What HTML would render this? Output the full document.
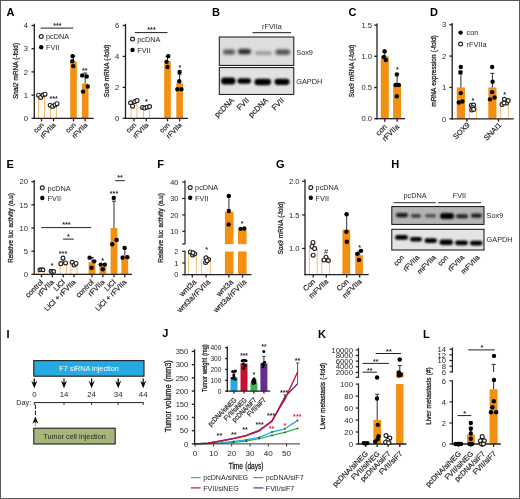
<!DOCTYPE html>
<html lang="en">
<head>
<meta charset="utf-8">
<title>Figure</title>
<style>
html,body{margin:0;padding:0;background:#fff;}
body{width:520px;height:499px;overflow:hidden;}
svg{display:block;}
svg text{font-family:"Liberation Sans",Arial,Helvetica,sans-serif;}
</style>
</head>
<body>
<svg width="520" height="499" viewBox="0 0 520 499">
<defs>
<filter id="b1" x="-30%" y="-80%" width="160%" height="260%"><feGaussianBlur stdDeviation="1.1"/></filter>
<filter id="b2" x="-30%" y="-100%" width="160%" height="300%"><feGaussianBlur stdDeviation="1.5"/></filter>
</defs>
<rect x="0" y="0" width="520" height="499" fill="#fff"/>
<text transform="translate(6.50,15.60)" font-size="11" font-weight="bold" fill="#000" >A</text>
<rect x="38.55" y="95.45" width="5.90" height="22.85" fill="#fff" stroke="#f39012" stroke-width="0.6"/>
<rect x="50.55" y="104.73" width="5.90" height="13.57" fill="#fff" stroke="#f39012" stroke-width="0.6"/>
<rect x="70.20" y="61.46" width="6.60" height="56.84" fill="#f39012"/>
<rect x="81.90" y="83.50" width="6.60" height="34.80" fill="#f39012"/>
<line x1="85.20" y1="73.06" x2="85.20" y2="83.50" stroke="#1b2330" stroke-width="0.95" />
<line x1="83.20" y1="73.06" x2="87.20" y2="73.06" stroke="#1b2330" stroke-width="0.95" />
<line x1="73.50" y1="56.12" x2="73.50" y2="61.46" stroke="#1b2330" stroke-width="0.95" />
<line x1="71.50" y1="56.12" x2="75.50" y2="56.12" stroke="#1b2330" stroke-width="0.95" />
<line x1="34.30" y1="23.80" x2="34.30" y2="118.90" stroke="#231f20" stroke-width="1.3" />
<line x1="31.50" y1="118.30" x2="34.30" y2="118.30" stroke="#231f20" stroke-width="1.3" />
<text transform="translate(28.00,121.04)" font-size="7.6" text-anchor="end" fill="#231f20" >0</text>
<line x1="31.50" y1="95.10" x2="34.30" y2="95.10" stroke="#231f20" stroke-width="1.3" />
<text transform="translate(28.00,97.84)" font-size="7.6" text-anchor="end" fill="#231f20" >1</text>
<line x1="31.50" y1="71.90" x2="34.30" y2="71.90" stroke="#231f20" stroke-width="1.3" />
<text transform="translate(28.00,74.64)" font-size="7.6" text-anchor="end" fill="#231f20" >2</text>
<line x1="31.50" y1="48.70" x2="34.30" y2="48.70" stroke="#231f20" stroke-width="1.3" />
<text transform="translate(28.00,51.44)" font-size="7.6" text-anchor="end" fill="#231f20" >3</text>
<line x1="31.50" y1="25.50" x2="34.30" y2="25.50" stroke="#231f20" stroke-width="1.3" />
<text transform="translate(28.00,28.24)" font-size="7.6" text-anchor="end" fill="#231f20" >4</text>
<line x1="33.70" y1="118.30" x2="93.70" y2="118.30" stroke="#231f20" stroke-width="1.3" />
<line x1="41.50" y1="118.30" x2="41.50" y2="121.30" stroke="#231f20" stroke-width="1.3" />
<line x1="53.50" y1="118.30" x2="53.50" y2="121.30" stroke="#231f20" stroke-width="1.3" />
<line x1="73.50" y1="118.30" x2="73.50" y2="121.30" stroke="#231f20" stroke-width="1.3" />
<line x1="85.20" y1="118.30" x2="85.20" y2="121.30" stroke="#231f20" stroke-width="1.3" />
<circle cx="38.60" cy="95.22" r="1.95" fill="#fff" stroke="#231f20" stroke-width="1.15"/>
<circle cx="40.60" cy="97.42" r="1.95" fill="#fff" stroke="#231f20" stroke-width="1.15"/>
<circle cx="43.00" cy="95.10" r="1.95" fill="#fff" stroke="#231f20" stroke-width="1.15"/>
<circle cx="45.00" cy="94.17" r="1.95" fill="#fff" stroke="#231f20" stroke-width="1.15"/>
<circle cx="50.20" cy="105.19" r="1.95" fill="#fff" stroke="#231f20" stroke-width="1.15"/>
<circle cx="52.60" cy="106.47" r="1.95" fill="#fff" stroke="#231f20" stroke-width="1.15"/>
<circle cx="55.00" cy="104.96" r="1.95" fill="#fff" stroke="#231f20" stroke-width="1.15"/>
<circle cx="57.00" cy="103.68" r="1.95" fill="#fff" stroke="#231f20" stroke-width="1.15"/>
<circle cx="72.60" cy="56.12" r="2.2" fill="#000"/>
<circle cx="72.30" cy="61.23" r="2.2" fill="#000"/>
<circle cx="73.20" cy="66.10" r="2.2" fill="#000"/>
<circle cx="82.20" cy="75.38" r="2.2" fill="#000"/>
<circle cx="86.70" cy="76.54" r="2.2" fill="#000"/>
<circle cx="87.80" cy="86.52" r="2.2" fill="#000"/>
<circle cx="83.00" cy="91.62" r="2.2" fill="#000"/>
<text transform="translate(57.40,28.34)" font-size="7.2" text-anchor="middle" font-weight="bold" fill="#231f20" >***</text>
<text transform="translate(53.60,100.94)" font-size="7.2" text-anchor="middle" font-weight="bold" fill="#231f20" >***</text>
<text transform="translate(84.80,72.74)" font-size="7.2" text-anchor="middle" font-weight="bold" fill="#231f20" >**</text>
<circle cx="41.20" cy="36.50" r="1.95" fill="#fff" stroke="#231f20" stroke-width="1.15"/>
<text transform="translate(46.00,39.10)" font-size="7.3" fill="#231f20" >pcDNA</text>
<circle cx="41.20" cy="47.20" r="2.2" fill="#000"/>
<text transform="translate(46.00,49.80)" font-size="7.3" fill="#231f20" >FVII</text>
<text transform="translate(44.20,125.50) rotate(-45)" font-size="6.9" text-anchor="end" fill="#231f20" stroke="#231f20" stroke-width="0.2">con</text>
<text transform="translate(56.20,125.50) rotate(-45)" font-size="6.9" text-anchor="end" fill="#231f20" stroke="#231f20" stroke-width="0.2">rFVIIa</text>
<text transform="translate(76.20,125.50) rotate(-45)" font-size="6.9" text-anchor="end" fill="#231f20" stroke="#231f20" stroke-width="0.2">con</text>
<text transform="translate(87.90,125.50) rotate(-45)" font-size="6.9" text-anchor="end" fill="#231f20" stroke="#231f20" stroke-width="0.2">rFVIIa</text>
<text transform="translate(17.70,71.00) rotate(-90) scale(0.82,1)" font-size="7.8" text-anchor="middle" fill="#231f20" stroke="#231f20" stroke-width="0.3" word-spacing="0.6"><tspan font-style="italic">Snai2</tspan> mRNA (-fold)</text>
<line x1="40.60" y1="28.10" x2="73.30" y2="28.10" stroke="#231f20" stroke-width="1.0" />
<rect x="131.05" y="103.96" width="5.90" height="14.34" fill="#fff" stroke="#f39012" stroke-width="0.6"/>
<rect x="143.35" y="107.51" width="5.90" height="10.79" fill="#fff" stroke="#f39012" stroke-width="0.6"/>
<rect x="164.20" y="61.07" width="6.60" height="57.23" fill="#f39012"/>
<rect x="176.30" y="82.73" width="6.60" height="35.57" fill="#f39012"/>
<line x1="179.60" y1="74.22" x2="179.60" y2="82.73" stroke="#1b2330" stroke-width="0.95" />
<line x1="177.60" y1="74.22" x2="181.60" y2="74.22" stroke="#1b2330" stroke-width="0.95" />
<line x1="167.50" y1="56.43" x2="167.50" y2="61.07" stroke="#1b2330" stroke-width="0.95" />
<line x1="165.50" y1="56.43" x2="169.50" y2="56.43" stroke="#1b2330" stroke-width="0.95" />
<line x1="125.50" y1="23.80" x2="125.50" y2="118.90" stroke="#231f20" stroke-width="1.3" />
<line x1="122.70" y1="118.30" x2="125.50" y2="118.30" stroke="#231f20" stroke-width="1.3" />
<text transform="translate(119.20,121.04)" font-size="7.6" text-anchor="end" fill="#231f20" >0</text>
<line x1="122.70" y1="87.37" x2="125.50" y2="87.37" stroke="#231f20" stroke-width="1.3" />
<text transform="translate(119.20,90.10)" font-size="7.6" text-anchor="end" fill="#231f20" >2</text>
<line x1="122.70" y1="56.43" x2="125.50" y2="56.43" stroke="#231f20" stroke-width="1.3" />
<text transform="translate(119.20,59.17)" font-size="7.6" text-anchor="end" fill="#231f20" >4</text>
<line x1="122.70" y1="25.50" x2="125.50" y2="25.50" stroke="#231f20" stroke-width="1.3" />
<text transform="translate(119.20,28.24)" font-size="7.6" text-anchor="end" fill="#231f20" >6</text>
<line x1="124.90" y1="118.30" x2="188.10" y2="118.30" stroke="#231f20" stroke-width="1.3" />
<line x1="134.00" y1="118.30" x2="134.00" y2="121.30" stroke="#231f20" stroke-width="1.3" />
<line x1="146.30" y1="118.30" x2="146.30" y2="121.30" stroke="#231f20" stroke-width="1.3" />
<line x1="167.50" y1="118.30" x2="167.50" y2="121.30" stroke="#231f20" stroke-width="1.3" />
<line x1="179.60" y1="118.30" x2="179.60" y2="121.30" stroke="#231f20" stroke-width="1.3" />
<circle cx="130.60" cy="102.83" r="1.95" fill="#fff" stroke="#231f20" stroke-width="1.15"/>
<circle cx="132.60" cy="106.24" r="1.95" fill="#fff" stroke="#231f20" stroke-width="1.15"/>
<circle cx="134.80" cy="101.60" r="1.95" fill="#fff" stroke="#231f20" stroke-width="1.15"/>
<circle cx="137.00" cy="100.51" r="1.95" fill="#fff" stroke="#231f20" stroke-width="1.15"/>
<circle cx="142.60" cy="107.47" r="1.95" fill="#fff" stroke="#231f20" stroke-width="1.15"/>
<circle cx="144.80" cy="108.09" r="1.95" fill="#fff" stroke="#231f20" stroke-width="1.15"/>
<circle cx="147.20" cy="107.16" r="1.95" fill="#fff" stroke="#231f20" stroke-width="1.15"/>
<circle cx="149.60" cy="106.55" r="1.95" fill="#fff" stroke="#231f20" stroke-width="1.15"/>
<circle cx="168.30" cy="56.12" r="2.2" fill="#000"/>
<circle cx="166.60" cy="61.85" r="2.2" fill="#000"/>
<circle cx="167.50" cy="66.95" r="2.2" fill="#000"/>
<circle cx="179.60" cy="71.90" r="2.2" fill="#000"/>
<circle cx="179.20" cy="81.18" r="2.2" fill="#000"/>
<circle cx="177.40" cy="89.22" r="2.2" fill="#000"/>
<circle cx="181.40" cy="89.22" r="2.2" fill="#000"/>
<text transform="translate(151.50,32.34)" font-size="7.2" text-anchor="middle" font-weight="bold" fill="#231f20" >***</text>
<text transform="translate(146.30,104.34)" font-size="7.2" text-anchor="middle" font-weight="bold" fill="#231f20" >*</text>
<text transform="translate(179.80,69.74)" font-size="7.2" text-anchor="middle" font-weight="bold" fill="#231f20" >*</text>
<circle cx="132.50" cy="39.00" r="1.95" fill="#fff" stroke="#231f20" stroke-width="1.15"/>
<text transform="translate(137.30,41.60)" font-size="7.3" fill="#231f20" >pcDNA</text>
<circle cx="132.50" cy="50.00" r="2.2" fill="#000"/>
<text transform="translate(137.30,52.60)" font-size="7.3" fill="#231f20" >FVII</text>
<text transform="translate(136.70,125.50) rotate(-45)" font-size="6.9" text-anchor="end" fill="#231f20" stroke="#231f20" stroke-width="0.2">con</text>
<text transform="translate(149.00,125.50) rotate(-45)" font-size="6.9" text-anchor="end" fill="#231f20" stroke="#231f20" stroke-width="0.2">rFVIIa</text>
<text transform="translate(170.20,125.50) rotate(-45)" font-size="6.9" text-anchor="end" fill="#231f20" stroke="#231f20" stroke-width="0.2">con</text>
<text transform="translate(182.30,125.50) rotate(-45)" font-size="6.9" text-anchor="end" fill="#231f20" stroke="#231f20" stroke-width="0.2">rFVIIa</text>
<text transform="translate(109.30,71.00) rotate(-90) scale(0.8,1)" font-size="7.8" text-anchor="middle" fill="#231f20" stroke="#231f20" stroke-width="0.3" word-spacing="0.6"><tspan font-style="italic">Sox9</tspan> mRNA (-fold)</text>
<line x1="134.80" y1="32.60" x2="167.50" y2="32.60" stroke="#231f20" stroke-width="1.0" />
<text transform="translate(212.00,16.00)" font-size="11" font-weight="bold" fill="#000" >B</text>
<clipPath id="cB1"><rect x="219.3" y="37" width="74.5" height="28.400000000000006"/></clipPath>
<rect x="219.3" y="37" width="74.5" height="28.400000000000006" fill="#dedede"/>
<g clip-path="url(#cB1)">
<rect x="223.0" y="49.5" width="12.0" height="5.0" rx="2.5" fill="#333" opacity="0.8" filter="url(#b2)"/>
<rect x="238.0" y="49.0" width="13.0" height="5.2" rx="2.6" fill="#1a1a1a" opacity="0.95" filter="url(#b2)"/>
<rect x="255.0" y="51.3" width="17.0" height="3.8" rx="1.9" fill="#555" opacity="0.5" filter="url(#b2)"/>
<rect x="275.5" y="49.6" width="14.5" height="5.2" rx="2.6" fill="#2a2a2a" opacity="0.8" filter="url(#b2)"/>
</g>
<rect x="219.3" y="37" width="74.5" height="28.400000000000006" fill="none" stroke="#111" stroke-width="1"/>
<clipPath id="cB2"><rect x="219.3" y="67.6" width="74.5" height="26.80000000000001"/></clipPath>
<rect x="219.3" y="67.6" width="74.5" height="26.80000000000001" fill="#e2e2e2"/>
<g clip-path="url(#cB2)">
<rect x="221.0" y="77.6" width="14.5" height="6.8" rx="3.4" fill="#000" opacity="1" filter="url(#b1)"/>
<rect x="237.5" y="78.2" width="13.5" height="5.6" rx="2.8" fill="#000" opacity="1" filter="url(#b1)"/>
<rect x="254.5" y="78.7" width="16.5" height="6.6" rx="3.3" fill="#000" opacity="1" filter="url(#b1)"/>
<rect x="274.5" y="78.7" width="15.0" height="6.2" rx="3.1" fill="#000" opacity="1" filter="url(#b1)"/>
</g>
<rect x="219.3" y="67.6" width="74.5" height="26.80000000000001" fill="none" stroke="#111" stroke-width="1"/>
<text transform="translate(272.00,29.00)" font-size="7.3" text-anchor="middle" fill="#231f20" >rFVIIa</text>
<line x1="252.50" y1="32.60" x2="291.00" y2="32.60" stroke="#444" stroke-width="1.2" />
<text transform="translate(296.30,54.70)" font-size="7.3" fill="#231f20" >Sox9</text>
<text transform="translate(296.30,84.00)" font-size="7.3" fill="#231f20" >GAPDH</text>
<text transform="translate(234.50,100.80) rotate(-45)" font-size="7.6" text-anchor="end" fill="#231f20" stroke="#231f20" stroke-width="0.2">pcDNA</text>
<text transform="translate(249.50,100.80) rotate(-45)" font-size="7.6" text-anchor="end" fill="#231f20" stroke="#231f20" stroke-width="0.2">FVII</text>
<text transform="translate(268.50,100.80) rotate(-45)" font-size="7.6" text-anchor="end" fill="#231f20" stroke="#231f20" stroke-width="0.2">pcDNA</text>
<text transform="translate(284.50,100.80) rotate(-45)" font-size="7.6" text-anchor="end" fill="#231f20" stroke="#231f20" stroke-width="0.2">FVII</text>
<text transform="translate(348.60,16.00)" font-size="11" font-weight="bold" fill="#000" >C</text>
<rect x="380.80" y="56.30" width="8.00" height="62.40" fill="#f39012"/>
<rect x="393.10" y="84.38" width="8.00" height="34.32" fill="#f39012"/>
<line x1="384.80" y1="51.93" x2="384.80" y2="56.30" stroke="#1b2330" stroke-width="0.95" />
<line x1="382.80" y1="51.93" x2="386.80" y2="51.93" stroke="#1b2330" stroke-width="0.95" />
<line x1="397.10" y1="73.77" x2="397.10" y2="84.38" stroke="#1b2330" stroke-width="0.95" />
<line x1="395.10" y1="73.77" x2="399.10" y2="73.77" stroke="#1b2330" stroke-width="0.95" />
<line x1="377.00" y1="23.40" x2="377.00" y2="119.30" stroke="#231f20" stroke-width="1.3" />
<line x1="374.20" y1="118.70" x2="377.00" y2="118.70" stroke="#231f20" stroke-width="1.3" />
<text transform="translate(372.10,121.44)" font-size="7.6" text-anchor="end" fill="#231f20" >0.0</text>
<line x1="374.20" y1="87.50" x2="377.00" y2="87.50" stroke="#231f20" stroke-width="1.3" />
<text transform="translate(372.10,90.24)" font-size="7.6" text-anchor="end" fill="#231f20" >0.5</text>
<line x1="374.20" y1="56.30" x2="377.00" y2="56.30" stroke="#231f20" stroke-width="1.3" />
<text transform="translate(372.10,59.04)" font-size="7.6" text-anchor="end" fill="#231f20" >1.0</text>
<line x1="374.20" y1="25.10" x2="377.00" y2="25.10" stroke="#231f20" stroke-width="1.3" />
<text transform="translate(372.10,27.84)" font-size="7.6" text-anchor="end" fill="#231f20" >1.5</text>
<line x1="376.40" y1="118.70" x2="405.00" y2="118.70" stroke="#231f20" stroke-width="1.3" />
<line x1="384.80" y1="118.70" x2="384.80" y2="121.70" stroke="#231f20" stroke-width="1.3" />
<line x1="397.10" y1="118.70" x2="397.10" y2="121.70" stroke="#231f20" stroke-width="1.3" />
<circle cx="384.60" cy="51.31" r="2.2" fill="#000"/>
<circle cx="383.80" cy="56.92" r="2.2" fill="#000"/>
<circle cx="385.80" cy="60.04" r="2.2" fill="#000"/>
<circle cx="396.80" cy="74.40" r="2.2" fill="#000"/>
<circle cx="395.60" cy="85.00" r="2.2" fill="#000"/>
<circle cx="398.80" cy="85.00" r="2.2" fill="#000"/>
<circle cx="396.80" cy="96.24" r="2.2" fill="#000"/>
<text transform="translate(397.30,72.24)" font-size="7.2" text-anchor="middle" font-weight="bold" fill="#231f20" >*</text>
<text transform="translate(354.00,71.00) rotate(-90) scale(0.8,1)" font-size="7.8" text-anchor="middle" fill="#231f20" stroke="#231f20" stroke-width="0.3" word-spacing="0.6"><tspan font-style="italic">Sox9</tspan> mRNA (-fold)</text>
<text transform="translate(387.40,127.40) rotate(-45)" font-size="7.5" text-anchor="end" fill="#231f20" stroke="#231f20" stroke-width="0.2">con</text>
<text transform="translate(399.70,127.40) rotate(-45)" font-size="7.5" text-anchor="end" fill="#231f20" stroke="#231f20" stroke-width="0.2">rFVIIa</text>
<text transform="translate(430.00,16.00)" font-size="11" font-weight="bold" fill="#000" >D</text>
<rect x="456.80" y="87.45" width="8.20" height="31.35" fill="#f39012"/>
<rect x="469.25" y="107.24" width="7.50" height="11.56" fill="#fff" stroke="#f39012" stroke-width="0.6"/>
<rect x="488.30" y="87.45" width="8.20" height="31.35" fill="#f39012"/>
<rect x="500.75" y="104.10" width="7.50" height="14.70" fill="#fff" stroke="#f39012" stroke-width="0.6"/>
<line x1="460.90" y1="71.77" x2="460.90" y2="87.45" stroke="#1b2330" stroke-width="0.95" />
<line x1="458.90" y1="71.77" x2="462.90" y2="71.77" stroke="#1b2330" stroke-width="0.95" />
<line x1="492.40" y1="73.34" x2="492.40" y2="87.45" stroke="#1b2330" stroke-width="0.95" />
<line x1="490.40" y1="73.34" x2="494.40" y2="73.34" stroke="#1b2330" stroke-width="0.95" />
<line x1="452.20" y1="23.00" x2="452.20" y2="119.40" stroke="#231f20" stroke-width="1.3" />
<line x1="449.40" y1="118.80" x2="452.20" y2="118.80" stroke="#231f20" stroke-width="1.3" />
<text transform="translate(446.30,121.54)" font-size="7.6" text-anchor="end" fill="#231f20" >0</text>
<line x1="449.40" y1="87.45" x2="452.20" y2="87.45" stroke="#231f20" stroke-width="1.3" />
<text transform="translate(446.30,90.19)" font-size="7.6" text-anchor="end" fill="#231f20" >1</text>
<line x1="449.40" y1="56.10" x2="452.20" y2="56.10" stroke="#231f20" stroke-width="1.3" />
<text transform="translate(446.30,58.84)" font-size="7.6" text-anchor="end" fill="#231f20" >2</text>
<line x1="449.40" y1="24.75" x2="452.20" y2="24.75" stroke="#231f20" stroke-width="1.3" />
<text transform="translate(446.30,27.49)" font-size="7.6" text-anchor="end" fill="#231f20" >3</text>
<line x1="451.60" y1="118.80" x2="513.70" y2="118.80" stroke="#231f20" stroke-width="1.3" />
<line x1="466.90" y1="118.80" x2="466.90" y2="121.80" stroke="#231f20" stroke-width="1.3" />
<line x1="498.50" y1="118.80" x2="498.50" y2="121.80" stroke="#231f20" stroke-width="1.3" />
<circle cx="460.80" cy="67.07" r="2.2" fill="#000"/>
<circle cx="460.80" cy="93.09" r="2.2" fill="#000"/>
<circle cx="458.80" cy="102.50" r="2.2" fill="#000"/>
<circle cx="462.40" cy="101.56" r="2.2" fill="#000"/>
<rect x="458.4" y="70.40" width="4.0" height="4.0" fill="#000"/>
<circle cx="492.20" cy="67.07" r="2.2" fill="#000"/>
<circle cx="492.60" cy="81.81" r="2.2" fill="#000"/>
<circle cx="492.20" cy="92.15" r="2.2" fill="#000"/>
<circle cx="490.00" cy="99.36" r="2.2" fill="#000"/>
<circle cx="494.60" cy="97.48" r="2.2" fill="#000"/>
<circle cx="471.30" cy="105.32" r="1.95" fill="#fff" stroke="#231f20" stroke-width="1.15"/>
<circle cx="473.60" cy="105.01" r="1.95" fill="#fff" stroke="#231f20" stroke-width="1.15"/>
<circle cx="472.50" cy="107.51" r="1.95" fill="#fff" stroke="#231f20" stroke-width="1.15"/>
<circle cx="471.80" cy="110.02" r="1.95" fill="#fff" stroke="#231f20" stroke-width="1.15"/>
<circle cx="473.60" cy="109.39" r="1.95" fill="#fff" stroke="#231f20" stroke-width="1.15"/>
<circle cx="502.00" cy="104.38" r="1.95" fill="#fff" stroke="#231f20" stroke-width="1.15"/>
<circle cx="504.40" cy="99.36" r="1.95" fill="#fff" stroke="#231f20" stroke-width="1.15"/>
<circle cx="506.60" cy="103.12" r="1.95" fill="#fff" stroke="#231f20" stroke-width="1.15"/>
<circle cx="508.20" cy="100.62" r="1.95" fill="#fff" stroke="#231f20" stroke-width="1.15"/>
<circle cx="504.00" cy="103.12" r="1.95" fill="#fff" stroke="#231f20" stroke-width="1.15"/>
<text transform="translate(472.80,103.34)" font-size="7.2" text-anchor="middle" font-weight="bold" fill="#231f20" >*</text>
<text transform="translate(504.60,96.74)" font-size="7.2" text-anchor="middle" font-weight="bold" fill="#231f20" >*</text>
<circle cx="460.60" cy="32.60" r="2.2" fill="#000"/>
<text transform="translate(466.60,35.30)" font-size="7.3" fill="#231f20" >con</text>
<circle cx="460.60" cy="44.00" r="1.95" fill="#fff" stroke="#231f20" stroke-width="1.15"/>
<text transform="translate(466.60,46.70)" font-size="7.3" fill="#231f20" >rFVIIa</text>
<text transform="translate(435.80,71.00) rotate(-90) scale(0.83,1)" font-size="7.8" text-anchor="middle" fill="#231f20" stroke="#231f20" stroke-width="0.3" word-spacing="0.6">mRNA expression (-fold)</text>
<text transform="translate(470.20,125.60) rotate(-45)" font-size="7.5" text-anchor="end" fill="#231f20" stroke="#231f20" stroke-width="0.2">SOX9</text>
<text transform="translate(502.00,125.60) rotate(-45)" font-size="7.5" text-anchor="end" fill="#231f20" stroke="#231f20" stroke-width="0.2">SNAI1</text>
<text transform="translate(6.50,167.50)" font-size="11" font-weight="bold" fill="#000" >E</text>
<rect x="38.45" y="270.02" width="6.10" height="4.28" fill="#fff" stroke="#f39012" stroke-width="0.6"/>
<rect x="49.25" y="271.41" width="6.10" height="2.89" fill="#fff" stroke="#f39012" stroke-width="0.6"/>
<rect x="60.15" y="262.61" width="6.10" height="11.69" fill="#fff" stroke="#f39012" stroke-width="0.6"/>
<rect x="70.95" y="264.00" width="6.10" height="10.30" fill="#fff" stroke="#f39012" stroke-width="0.6"/>
<rect x="88.60" y="262.26" width="6.80" height="12.04" fill="#f39012"/>
<rect x="99.50" y="266.43" width="6.80" height="7.87" fill="#f39012"/>
<rect x="110.60" y="228.00" width="6.80" height="46.30" fill="#f39012"/>
<rect x="121.40" y="255.32" width="6.80" height="18.98" fill="#f39012"/>
<line x1="114.00" y1="201.15" x2="114.00" y2="228.00" stroke="#1b2330" stroke-width="0.95" />
<line x1="112.00" y1="201.15" x2="116.00" y2="201.15" stroke="#1b2330" stroke-width="0.95" />
<line x1="124.80" y1="248.37" x2="124.80" y2="255.32" stroke="#1b2330" stroke-width="0.95" />
<line x1="122.80" y1="248.37" x2="126.80" y2="248.37" stroke="#1b2330" stroke-width="0.95" />
<line x1="92.00" y1="257.63" x2="92.00" y2="262.26" stroke="#1b2330" stroke-width="0.95" />
<line x1="90.00" y1="257.63" x2="94.00" y2="257.63" stroke="#1b2330" stroke-width="0.95" />
<line x1="63.20" y1="259.02" x2="63.20" y2="262.26" stroke="#1b2330" stroke-width="0.95" />
<line x1="61.20" y1="259.02" x2="65.20" y2="259.02" stroke="#1b2330" stroke-width="0.95" />
<line x1="34.20" y1="180.00" x2="34.20" y2="274.90" stroke="#231f20" stroke-width="1.3" />
<line x1="31.40" y1="274.30" x2="34.20" y2="274.30" stroke="#231f20" stroke-width="1.3" />
<text transform="translate(27.90,277.04)" font-size="7.6" text-anchor="end" fill="#231f20" >0</text>
<line x1="31.40" y1="251.15" x2="34.20" y2="251.15" stroke="#231f20" stroke-width="1.3" />
<text transform="translate(27.90,253.89)" font-size="7.6" text-anchor="end" fill="#231f20" >5</text>
<line x1="31.40" y1="228.00" x2="34.20" y2="228.00" stroke="#231f20" stroke-width="1.3" />
<text transform="translate(27.90,230.74)" font-size="7.6" text-anchor="end" fill="#231f20" >10</text>
<line x1="31.40" y1="204.85" x2="34.20" y2="204.85" stroke="#231f20" stroke-width="1.3" />
<text transform="translate(27.90,207.59)" font-size="7.6" text-anchor="end" fill="#231f20" >15</text>
<line x1="31.40" y1="181.70" x2="34.20" y2="181.70" stroke="#231f20" stroke-width="1.3" />
<text transform="translate(27.90,184.44)" font-size="7.6" text-anchor="end" fill="#231f20" >20</text>
<line x1="33.60" y1="274.30" x2="132.00" y2="274.30" stroke="#231f20" stroke-width="1.3" />
<line x1="41.50" y1="274.30" x2="41.50" y2="277.30" stroke="#231f20" stroke-width="1.3" />
<line x1="52.30" y1="274.30" x2="52.30" y2="277.30" stroke="#231f20" stroke-width="1.3" />
<line x1="63.20" y1="274.30" x2="63.20" y2="277.30" stroke="#231f20" stroke-width="1.3" />
<line x1="74.00" y1="274.30" x2="74.00" y2="277.30" stroke="#231f20" stroke-width="1.3" />
<line x1="92.00" y1="274.30" x2="92.00" y2="277.30" stroke="#231f20" stroke-width="1.3" />
<line x1="102.90" y1="274.30" x2="102.90" y2="277.30" stroke="#231f20" stroke-width="1.3" />
<line x1="114.00" y1="274.30" x2="114.00" y2="277.30" stroke="#231f20" stroke-width="1.3" />
<line x1="124.80" y1="274.30" x2="124.80" y2="277.30" stroke="#231f20" stroke-width="1.3" />
<circle cx="39.70" cy="269.90" r="1.75" fill="#fff" stroke="#231f20" stroke-width="1.15"/>
<circle cx="41.40" cy="269.67" r="1.75" fill="#fff" stroke="#231f20" stroke-width="1.15"/>
<circle cx="43.10" cy="269.90" r="1.75" fill="#fff" stroke="#231f20" stroke-width="1.15"/>
<circle cx="50.90" cy="271.06" r="1.75" fill="#fff" stroke="#231f20" stroke-width="1.15"/>
<circle cx="52.40" cy="271.99" r="1.75" fill="#fff" stroke="#231f20" stroke-width="1.15"/>
<circle cx="53.80" cy="271.43" r="1.75" fill="#fff" stroke="#231f20" stroke-width="1.15"/>
<circle cx="63.00" cy="258.10" r="1.95" fill="#fff" stroke="#231f20" stroke-width="1.15"/>
<circle cx="60.80" cy="263.65" r="1.95" fill="#fff" stroke="#231f20" stroke-width="1.15"/>
<circle cx="65.60" cy="262.96" r="1.95" fill="#fff" stroke="#231f20" stroke-width="1.15"/>
<circle cx="72.20" cy="262.26" r="1.95" fill="#fff" stroke="#231f20" stroke-width="1.15"/>
<circle cx="74.20" cy="265.04" r="1.95" fill="#fff" stroke="#231f20" stroke-width="1.15"/>
<circle cx="76.00" cy="263.42" r="1.95" fill="#fff" stroke="#231f20" stroke-width="1.15"/>
<circle cx="89.60" cy="257.63" r="2.2" fill="#000"/>
<circle cx="94.20" cy="261.34" r="2.2" fill="#000"/>
<circle cx="91.60" cy="267.82" r="2.2" fill="#000"/>
<circle cx="100.80" cy="264.58" r="2.2" fill="#000"/>
<circle cx="104.80" cy="264.58" r="2.2" fill="#000"/>
<circle cx="102.80" cy="269.21" r="2.2" fill="#000"/>
<circle cx="113.80" cy="197.91" r="2.2" fill="#000"/>
<circle cx="112.20" cy="244.21" r="2.2" fill="#000"/>
<circle cx="116.60" cy="240.04" r="2.2" fill="#000"/>
<circle cx="124.60" cy="247.91" r="2.2" fill="#000"/>
<circle cx="122.60" cy="257.63" r="2.2" fill="#000"/>
<circle cx="127.40" cy="257.17" r="2.2" fill="#000"/>
<line x1="41.40" y1="227.60" x2="91.20" y2="227.60" stroke="#231f20" stroke-width="1.0" />
<text transform="translate(66.40,227.34)" font-size="7.2" text-anchor="middle" font-weight="bold" fill="#231f20" >***</text>
<line x1="63.00" y1="239.10" x2="73.80" y2="239.10" stroke="#231f20" stroke-width="1.0" />
<text transform="translate(68.30,239.34)" font-size="7.2" text-anchor="middle" font-weight="bold" fill="#231f20" >*</text>
<line x1="115.20" y1="180.70" x2="124.80" y2="180.70" stroke="#231f20" stroke-width="1.0" />
<text transform="translate(120.00,180.34)" font-size="7.2" text-anchor="middle" font-weight="bold" fill="#231f20" >**</text>
<text transform="translate(114.00,195.94)" font-size="7.2" text-anchor="middle" font-weight="bold" fill="#231f20" >***</text>
<text transform="translate(63.00,255.94)" font-size="7.2" text-anchor="middle" font-weight="bold" fill="#231f20" >***</text>
<text transform="translate(52.20,268.14)" font-size="7.2" text-anchor="middle" font-weight="bold" fill="#231f20" >*</text>
<text transform="translate(102.70,262.74)" font-size="7.2" text-anchor="middle" font-weight="bold" fill="#231f20" >*</text>
<circle cx="42.30" cy="187.80" r="1.95" fill="#fff" stroke="#231f20" stroke-width="1.15"/>
<text transform="translate(47.60,190.50)" font-size="7.3" fill="#231f20" >pcDNA</text>
<circle cx="42.30" cy="198.00" r="2.2" fill="#000"/>
<text transform="translate(47.60,200.70)" font-size="7.3" fill="#231f20" >FVII</text>
<text transform="translate(12.80,228.00) rotate(-90) scale(0.83,1)" font-size="7.6" text-anchor="middle" fill="#231f20" stroke="#231f20" stroke-width="0.3" word-spacing="0.6">Relative luc activity (a.u)</text>
<text transform="translate(43.70,282.60) rotate(-45)" font-size="7.3" text-anchor="end" fill="#231f20" stroke="#231f20" stroke-width="0.2">control</text>
<text transform="translate(54.50,282.60) rotate(-45)" font-size="7.3" text-anchor="end" fill="#231f20" stroke="#231f20" stroke-width="0.2">rFVIIa</text>
<text transform="translate(65.40,282.60) rotate(-45)" font-size="7.3" text-anchor="end" fill="#231f20" stroke="#231f20" stroke-width="0.2">LiCl</text>
<text transform="translate(76.20,282.60) rotate(-45)" font-size="7.3" text-anchor="end" fill="#231f20" stroke="#231f20" stroke-width="0.2">LiCl + rFVIIa</text>
<text transform="translate(94.20,282.60) rotate(-45)" font-size="7.3" text-anchor="end" fill="#231f20" stroke="#231f20" stroke-width="0.2">control</text>
<text transform="translate(105.10,282.60) rotate(-45)" font-size="7.3" text-anchor="end" fill="#231f20" stroke="#231f20" stroke-width="0.2">rFVIIa</text>
<text transform="translate(116.20,282.60) rotate(-45)" font-size="7.3" text-anchor="end" fill="#231f20" stroke="#231f20" stroke-width="0.2">LiCl</text>
<text transform="translate(127.00,282.60) rotate(-45)" font-size="7.3" text-anchor="end" fill="#231f20" stroke="#231f20" stroke-width="0.2">LiCl + rFVIIa</text>
<text transform="translate(157.30,167.50)" font-size="11" font-weight="bold" fill="#000" >F</text>
<rect x="188.35" y="254.07" width="7.90" height="20.53" fill="#fff" stroke="#f39012" stroke-width="0.6"/>
<rect x="201.75" y="259.87" width="8.70" height="14.73" fill="#fff" stroke="#f39012" stroke-width="0.6"/>
<rect x="224.90" y="211.62" width="8.60" height="32.58" fill="#f39012"/>
<rect x="238.00" y="229.00" width="8.60" height="15.20" fill="#f39012"/>
<rect x="224.90" y="251.50" width="8.60" height="23.10" fill="#f39012"/>
<rect x="238.00" y="251.50" width="8.60" height="23.10" fill="#f39012"/>
<line x1="228.90" y1="196.04" x2="228.90" y2="211.62" stroke="#1b2330" stroke-width="0.95" />
<line x1="226.90" y1="196.04" x2="230.90" y2="196.04" stroke="#1b2330" stroke-width="0.95" />
<line x1="185.00" y1="180.20" x2="185.00" y2="244.20" stroke="#231f20" stroke-width="1.2" />
<line x1="185.00" y1="250.80" x2="185.00" y2="275.20" stroke="#231f20" stroke-width="1.2" />
<line x1="182.20" y1="231.30" x2="185.00" y2="231.30" stroke="#231f20" stroke-width="1.2" />
<text transform="translate(178.40,234.00)" font-size="7.4" text-anchor="end" fill="#231f20" >10</text>
<line x1="182.20" y1="214.90" x2="185.00" y2="214.90" stroke="#231f20" stroke-width="1.2" />
<text transform="translate(178.40,217.60)" font-size="7.4" text-anchor="end" fill="#231f20" >20</text>
<line x1="182.20" y1="198.50" x2="185.00" y2="198.50" stroke="#231f20" stroke-width="1.2" />
<text transform="translate(178.40,201.20)" font-size="7.4" text-anchor="end" fill="#231f20" >30</text>
<line x1="182.20" y1="182.10" x2="185.00" y2="182.10" stroke="#231f20" stroke-width="1.2" />
<text transform="translate(178.40,184.80)" font-size="7.4" text-anchor="end" fill="#231f20" >40</text>
<line x1="182.20" y1="243.90" x2="185.00" y2="243.90" stroke="#231f20" stroke-width="1.2" />
<line x1="182.20" y1="274.60" x2="185.00" y2="274.60" stroke="#231f20" stroke-width="1.2" />
<text transform="translate(178.40,277.30)" font-size="7.4" text-anchor="end" fill="#231f20" >0</text>
<line x1="182.20" y1="263.00" x2="185.00" y2="263.00" stroke="#231f20" stroke-width="1.2" />
<text transform="translate(178.40,265.70)" font-size="7.4" text-anchor="end" fill="#231f20" >1</text>
<line x1="182.20" y1="251.40" x2="185.00" y2="251.40" stroke="#231f20" stroke-width="1.2" />
<text transform="translate(178.40,254.10)" font-size="7.4" text-anchor="end" fill="#231f20" >2</text>
<line x1="184.40" y1="274.60" x2="251.60" y2="274.60" stroke="#231f20" stroke-width="1.3" />
<line x1="192.30" y1="274.60" x2="192.30" y2="277.60" stroke="#231f20" stroke-width="1.3" />
<line x1="206.10" y1="274.60" x2="206.10" y2="277.60" stroke="#231f20" stroke-width="1.3" />
<line x1="228.90" y1="274.60" x2="228.90" y2="277.60" stroke="#231f20" stroke-width="1.3" />
<line x1="242.50" y1="274.60" x2="242.50" y2="277.60" stroke="#231f20" stroke-width="1.3" />
<circle cx="190.40" cy="251.98" r="1.95" fill="#fff" stroke="#231f20" stroke-width="1.15"/>
<circle cx="192.60" cy="254.88" r="1.95" fill="#fff" stroke="#231f20" stroke-width="1.15"/>
<circle cx="194.80" cy="253.95" r="1.95" fill="#fff" stroke="#231f20" stroke-width="1.15"/>
<circle cx="193.00" cy="252.79" r="1.95" fill="#fff" stroke="#231f20" stroke-width="1.15"/>
<circle cx="206.00" cy="257.78" r="1.95" fill="#fff" stroke="#231f20" stroke-width="1.15"/>
<circle cx="208.60" cy="259.52" r="1.95" fill="#fff" stroke="#231f20" stroke-width="1.15"/>
<circle cx="205.60" cy="262.42" r="1.95" fill="#fff" stroke="#231f20" stroke-width="1.15"/>
<circle cx="207.00" cy="260.68" r="1.95" fill="#fff" stroke="#231f20" stroke-width="1.15"/>
<circle cx="228.80" cy="195.88" r="2.2" fill="#000"/>
<circle cx="228.80" cy="210.96" r="2.2" fill="#000"/>
<circle cx="228.60" cy="224.41" r="2.2" fill="#000"/>
<circle cx="240.60" cy="228.84" r="2.2" fill="#000"/>
<circle cx="244.20" cy="228.51" r="2.2" fill="#000"/>
<text transform="translate(206.60,251.74)" font-size="7.2" text-anchor="middle" font-weight="bold" fill="#231f20" >*</text>
<text transform="translate(242.20,226.34)" font-size="7.2" text-anchor="middle" font-weight="bold" fill="#231f20" >*</text>
<circle cx="190.20" cy="187.60" r="1.95" fill="#fff" stroke="#231f20" stroke-width="1.15"/>
<text transform="translate(195.10,190.30)" font-size="7.3" fill="#231f20" >pcDNA</text>
<circle cx="190.20" cy="197.80" r="2.2" fill="#000"/>
<text transform="translate(195.10,200.50)" font-size="7.3" fill="#231f20" >FVII</text>
<text transform="translate(162.70,228.00) rotate(-90) scale(0.83,1)" font-size="7.6" text-anchor="middle" fill="#231f20" stroke="#231f20" stroke-width="0.3" word-spacing="0.6">Relative luc activity (a.u)</text>
<text transform="translate(196.90,282.60) rotate(-45)" font-size="7.6" text-anchor="end" fill="#231f20" stroke="#231f20" stroke-width="0.2">wnt3a</text>
<text transform="translate(210.70,282.60) rotate(-45)" font-size="7.6" text-anchor="end" fill="#231f20" stroke="#231f20" stroke-width="0.2">wnt3a/rFVIIa</text>
<text transform="translate(233.80,282.60) rotate(-45)" font-size="7.6" text-anchor="end" fill="#231f20" stroke="#231f20" stroke-width="0.2">wnt3a</text>
<text transform="translate(246.90,282.60) rotate(-45)" font-size="7.6" text-anchor="end" fill="#231f20" stroke="#231f20" stroke-width="0.2">wnt3a/rFVIIa</text>
<text transform="translate(275.90,167.50)" font-size="11" font-weight="bold" fill="#000" >G</text>
<rect x="309.25" y="248.85" width="7.90" height="25.75" fill="#fff" stroke="#f39012" stroke-width="0.6"/>
<rect x="321.85" y="259.60" width="7.90" height="15.00" fill="#fff" stroke="#f39012" stroke-width="0.6"/>
<rect x="342.40" y="229.68" width="7.80" height="44.92" fill="#f39012"/>
<rect x="355.30" y="255.22" width="7.60" height="19.38" fill="#f39012"/>
<line x1="346.70" y1="214.23" x2="346.70" y2="229.68" stroke="#1b2330" stroke-width="0.95" />
<line x1="344.70" y1="214.23" x2="348.70" y2="214.23" stroke="#1b2330" stroke-width="0.95" />
<line x1="313.20" y1="243.12" x2="313.20" y2="248.50" stroke="#1b2330" stroke-width="0.95" />
<line x1="311.20" y1="243.12" x2="315.20" y2="243.12" stroke="#1b2330" stroke-width="0.95" />
<line x1="359.70" y1="251.19" x2="359.70" y2="255.22" stroke="#1b2330" stroke-width="0.95" />
<line x1="357.70" y1="251.19" x2="361.70" y2="251.19" stroke="#1b2330" stroke-width="0.95" />
<line x1="305.00" y1="179.30" x2="305.00" y2="275.20" stroke="#231f20" stroke-width="1.3" />
<line x1="302.20" y1="248.50" x2="305.00" y2="248.50" stroke="#231f20" stroke-width="1.3" />
<text transform="translate(299.50,251.24)" font-size="7.6" text-anchor="end" fill="#231f20" >1.0</text>
<line x1="302.20" y1="214.90" x2="305.00" y2="214.90" stroke="#231f20" stroke-width="1.3" />
<text transform="translate(299.50,217.64)" font-size="7.6" text-anchor="end" fill="#231f20" >1.5</text>
<line x1="302.20" y1="181.30" x2="305.00" y2="181.30" stroke="#231f20" stroke-width="1.3" />
<text transform="translate(299.50,184.04)" font-size="7.6" text-anchor="end" fill="#231f20" >2.0</text>
<line x1="304.40" y1="274.60" x2="368.70" y2="274.60" stroke="#231f20" stroke-width="1.3" />
<line x1="313.20" y1="274.60" x2="313.20" y2="277.60" stroke="#231f20" stroke-width="1.3" />
<line x1="326.30" y1="274.60" x2="326.30" y2="277.60" stroke="#231f20" stroke-width="1.3" />
<line x1="346.70" y1="274.60" x2="346.70" y2="277.60" stroke="#231f20" stroke-width="1.3" />
<line x1="359.70" y1="274.60" x2="359.70" y2="277.60" stroke="#231f20" stroke-width="1.3" />
<circle cx="313.00" cy="242.45" r="1.95" fill="#fff" stroke="#231f20" stroke-width="1.15"/>
<circle cx="312.00" cy="246.48" r="1.95" fill="#fff" stroke="#231f20" stroke-width="1.15"/>
<circle cx="314.60" cy="248.50" r="1.95" fill="#fff" stroke="#231f20" stroke-width="1.15"/>
<circle cx="313.20" cy="255.22" r="1.95" fill="#fff" stroke="#231f20" stroke-width="1.15"/>
<circle cx="326.00" cy="257.24" r="1.95" fill="#fff" stroke="#231f20" stroke-width="1.15"/>
<circle cx="324.00" cy="259.92" r="1.95" fill="#fff" stroke="#231f20" stroke-width="1.15"/>
<circle cx="328.40" cy="260.60" r="1.95" fill="#fff" stroke="#231f20" stroke-width="1.15"/>
<circle cx="346.60" cy="214.23" r="2.2" fill="#000"/>
<circle cx="346.40" cy="231.70" r="2.2" fill="#000"/>
<circle cx="346.80" cy="241.78" r="2.2" fill="#000"/>
<circle cx="361.00" cy="250.85" r="2.2" fill="#000"/>
<circle cx="357.20" cy="253.88" r="2.2" fill="#000"/>
<circle cx="359.00" cy="259.92" r="2.2" fill="#000"/>
<text transform="translate(326.20,253.60)" font-size="7.5" text-anchor="middle" fill="#231f20" >#</text>
<text transform="translate(359.60,249.74)" font-size="7.2" text-anchor="middle" font-weight="bold" fill="#231f20" >*</text>
<circle cx="310.80" cy="187.60" r="1.95" fill="#fff" stroke="#231f20" stroke-width="1.15"/>
<text transform="translate(315.60,190.30)" font-size="7.3" fill="#231f20" >pcDNA</text>
<circle cx="310.80" cy="197.80" r="2.2" fill="#000"/>
<text transform="translate(315.60,200.50)" font-size="7.3" fill="#231f20" >FVII</text>
<text transform="translate(283.40,228.00) rotate(-90) scale(0.8,1)" font-size="7.8" text-anchor="middle" fill="#231f20" stroke="#231f20" stroke-width="0.3" word-spacing="0.6"><tspan font-style="italic">Sox9</tspan> mRNA (-fold)</text>
<text transform="translate(315.60,282.00) rotate(-45)" font-size="7.4" text-anchor="end" fill="#231f20" stroke="#231f20" stroke-width="0.2">Con</text>
<text transform="translate(328.70,282.00) rotate(-45)" font-size="7.4" text-anchor="end" fill="#231f20" stroke="#231f20" stroke-width="0.2">mFVIIa</text>
<text transform="translate(349.10,282.00) rotate(-45)" font-size="7.4" text-anchor="end" fill="#231f20" stroke="#231f20" stroke-width="0.2">Con</text>
<text transform="translate(362.10,282.00) rotate(-45)" font-size="7.4" text-anchor="end" fill="#231f20" stroke="#231f20" stroke-width="0.2">mFVIIa</text>
<text transform="translate(391.30,167.50)" font-size="11" font-weight="bold" fill="#000" >H</text>
<clipPath id="cH1"><rect x="391.8" y="206.6" width="92.19999999999999" height="17.80000000000001"/></clipPath>
<rect x="391.8" y="206.6" width="92.19999999999999" height="17.80000000000001" fill="#b4b4b4"/>
<g clip-path="url(#cH1)">
<rect x="396.0" y="213.1" width="12.0" height="4.2" rx="2.1" fill="#111" opacity="0.95" filter="url(#b1)"/>
<rect x="411.0" y="213.9" width="10.0" height="3.8" rx="1.9" fill="#222" opacity="0.8" filter="url(#b1)"/>
<rect x="425.0" y="214.0" width="11.0" height="3.6" rx="1.8" fill="#222" opacity="0.7" filter="url(#b1)"/>
<rect x="440.0" y="213.0" width="14.0" height="6.0" rx="3.0" fill="#000" opacity="1" filter="url(#b1)"/>
<rect x="456.0" y="214.2" width="12.0" height="4.0" rx="2.0" fill="#111" opacity="0.9" filter="url(#b1)"/>
<rect x="471.0" y="213.4" width="11.0" height="4.4" rx="2.2" fill="#111" opacity="0.9" filter="url(#b1)"/>
</g>
<rect x="391.8" y="206.6" width="92.19999999999999" height="17.80000000000001" fill="none" stroke="#111" stroke-width="1"/>
<clipPath id="cH2"><rect x="391.8" y="229.3" width="92.19999999999999" height="20.69999999999999"/></clipPath>
<rect x="391.8" y="229.3" width="92.19999999999999" height="20.69999999999999" fill="#e4e4e4"/>
<g clip-path="url(#cH2)">
<rect x="395.0" y="235.1" width="13.0" height="4.6" rx="2.3" fill="#000" opacity="1" filter="url(#b1)"/>
<rect x="410.0" y="236.9" width="12.0" height="4.6" rx="2.3" fill="#000" opacity="1" filter="url(#b1)"/>
<rect x="424.5" y="238.3" width="12.5" height="4.6" rx="2.3" fill="#000" opacity="1" filter="url(#b1)"/>
<rect x="439.5" y="239.5" width="13.5" height="5.4" rx="2.7" fill="#000" opacity="1" filter="url(#b1)"/>
<rect x="455.0" y="240.4" width="13.0" height="4.8" rx="2.4" fill="#000" opacity="1" filter="url(#b1)"/>
<rect x="470.0" y="240.8" width="12.5" height="4.8" rx="2.4" fill="#000" opacity="1" filter="url(#b1)"/>
</g>
<rect x="391.8" y="229.3" width="92.19999999999999" height="20.69999999999999" fill="none" stroke="#111" stroke-width="1"/>
<line x1="393.40" y1="202.70" x2="435.80" y2="202.70" stroke="#555" stroke-width="1.3" />
<line x1="438.00" y1="202.70" x2="481.20" y2="202.70" stroke="#555" stroke-width="1.3" />
<text transform="translate(415.00,197.90)" font-size="7.3" text-anchor="middle" fill="#231f20" >pcDNA</text>
<text transform="translate(459.40,197.90)" font-size="7.3" text-anchor="middle" fill="#231f20" >FVII</text>
<text transform="translate(486.60,217.60)" font-size="7.3" fill="#231f20" >Sox9</text>
<text transform="translate(486.60,242.20)" font-size="7.3" fill="#231f20" >GAPDH</text>
<text transform="translate(404.60,258.00) rotate(-45)" font-size="7.2" text-anchor="end" fill="#231f20" stroke="#231f20" stroke-width="0.2">con</text>
<text transform="translate(419.90,258.00) rotate(-45)" font-size="7.2" text-anchor="end" fill="#231f20" stroke="#231f20" stroke-width="0.2">rFVIIa</text>
<text transform="translate(436.40,258.00) rotate(-45)" font-size="7.2" text-anchor="end" fill="#231f20" stroke="#231f20" stroke-width="0.2">mFVIIa</text>
<text transform="translate(448.60,258.00) rotate(-45)" font-size="7.2" text-anchor="end" fill="#231f20" stroke="#231f20" stroke-width="0.2">con</text>
<text transform="translate(464.60,258.00) rotate(-45)" font-size="7.2" text-anchor="end" fill="#231f20" stroke="#231f20" stroke-width="0.2">rFVIIa</text>
<text transform="translate(480.20,258.00) rotate(-45)" font-size="7.2" text-anchor="end" fill="#231f20" stroke="#231f20" stroke-width="0.2">mFVIIa</text>
<text transform="translate(6.50,337.60)" font-size="11" font-weight="bold" fill="#000" >I</text>
<rect x="33.8" y="360.6" width="110.2" height="15.6" fill="#27aae1" stroke="#231f20" stroke-width="1.1"/>
<text transform="translate(89.00,371.00)" font-size="7.3" text-anchor="middle" fill="#fff" >F7 siRNA injection</text>
<line x1="34.30" y1="378.60" x2="34.30" y2="384.00" stroke="#000" stroke-width="1.2" />
<path d="M31.3 380.8 L34.3 383.2 L37.3 380.8 L34.3 388.2 Z" fill="#000"/>
<text transform="translate(34.30,396.70)" font-size="7.8" text-anchor="middle" fill="#231f20" >0</text>
<line x1="34.30" y1="402.60" x2="34.30" y2="405.00" stroke="#231f20" stroke-width="0.9" />
<line x1="64.00" y1="378.60" x2="64.00" y2="384.00" stroke="#000" stroke-width="1.2" />
<path d="M61.0 380.8 L64.0 383.2 L67.0 380.8 L64.0 388.2 Z" fill="#000"/>
<text transform="translate(64.00,396.70)" font-size="7.8" text-anchor="middle" fill="#231f20" >14</text>
<line x1="64.00" y1="402.60" x2="64.00" y2="405.00" stroke="#231f20" stroke-width="0.9" />
<line x1="91.60" y1="378.60" x2="91.60" y2="384.00" stroke="#000" stroke-width="1.2" />
<path d="M88.6 380.8 L91.6 383.2 L94.6 380.8 L91.6 388.2 Z" fill="#000"/>
<text transform="translate(91.60,396.70)" font-size="7.8" text-anchor="middle" fill="#231f20" >24</text>
<line x1="91.60" y1="402.60" x2="91.60" y2="405.00" stroke="#231f20" stroke-width="0.9" />
<line x1="118.20" y1="378.60" x2="118.20" y2="384.00" stroke="#000" stroke-width="1.2" />
<path d="M115.2 380.8 L118.2 383.2 L121.2 380.8 L118.2 388.2 Z" fill="#000"/>
<text transform="translate(118.20,396.70)" font-size="7.8" text-anchor="middle" fill="#231f20" >34</text>
<line x1="118.20" y1="402.60" x2="118.20" y2="405.00" stroke="#231f20" stroke-width="0.9" />
<line x1="143.20" y1="378.60" x2="143.20" y2="384.00" stroke="#000" stroke-width="1.2" />
<path d="M140.2 380.8 L143.2 383.2 L146.2 380.8 L143.2 388.2 Z" fill="#000"/>
<text transform="translate(143.20,396.70)" font-size="7.8" text-anchor="middle" fill="#231f20" >44</text>
<line x1="143.20" y1="402.60" x2="143.20" y2="405.00" stroke="#231f20" stroke-width="0.9" />
<line x1="33.90" y1="402.60" x2="143.70" y2="402.60" stroke="#231f20" stroke-width="1.0" />
<text transform="translate(16.20,404.80)" font-size="7.3" fill="#231f20" >Day:</text>
<line x1="35.40" y1="404.60" x2="35.40" y2="415.00" stroke="#231f20" stroke-width="1.0" stroke-dasharray="4.4 1.6"/>
<path d="M32.4 423.8 L35.4 421.4 L38.4 423.8 L35.4 416.4 Z" fill="#000"/>
<line x1="35.40" y1="422.00" x2="35.40" y2="425.60" stroke="#231f20" stroke-width="0.9" stroke-dasharray="1.6 1"/>
<rect x="33.8" y="428.2" width="81.4" height="15.8" fill="#a6b67b" stroke="#231f20" stroke-width="1.1"/>
<text transform="translate(74.50,438.60)" font-size="7.3" text-anchor="middle" fill="#231f20" >Tumor cell injection</text>
<text transform="translate(162.20,337.40)" font-size="11" font-weight="bold" fill="#000" >J</text>
<polyline points="195.1,443.9 207.9,443.6 220.7,443.1 233.5,442.3 246.3,441.0 259.1,438.6 272.0,435.4 284.8,432.3 297.6,428.3" fill="none" stroke="#39b54a" stroke-width="1.3" stroke-linejoin="round"/>
<circle cx="233.5" cy="442.3" r="0.9" fill="#1a1a1a" opacity="0.75"/>
<circle cx="246.3" cy="441.0" r="0.9" fill="#1a1a1a" opacity="0.75"/>
<circle cx="259.1" cy="438.6" r="0.9" fill="#1a1a1a" opacity="0.75"/>
<circle cx="272.0" cy="435.4" r="0.9" fill="#1a1a1a" opacity="0.75"/>
<circle cx="284.8" cy="432.3" r="0.9" fill="#1a1a1a" opacity="0.75"/>
<circle cx="297.6" cy="428.3" r="0.9" fill="#1a1a1a" opacity="0.75"/>
<polyline points="195.1,443.9 207.9,443.6 220.7,442.8 233.5,441.5 246.3,439.9 259.1,437.3 272.0,432.0 284.8,428.8 297.6,420.4" fill="none" stroke="#27aae1" stroke-width="1.3" stroke-linejoin="round"/>
<circle cx="233.5" cy="441.5" r="0.9" fill="#1a1a1a" opacity="0.75"/>
<circle cx="246.3" cy="439.9" r="0.9" fill="#1a1a1a" opacity="0.75"/>
<circle cx="259.1" cy="437.3" r="0.9" fill="#1a1a1a" opacity="0.75"/>
<circle cx="272.0" cy="432.0" r="0.9" fill="#1a1a1a" opacity="0.75"/>
<circle cx="284.8" cy="428.8" r="0.9" fill="#1a1a1a" opacity="0.75"/>
<circle cx="297.6" cy="420.4" r="0.9" fill="#1a1a1a" opacity="0.75"/>
<polyline points="195.1,443.9 207.9,443.1 220.7,441.0 233.5,438.4 246.3,435.4 259.1,430.4 272.0,421.4 284.8,397.1 297.6,383.7" fill="none" stroke="#662d91" stroke-width="1.4" stroke-linejoin="round"/>
<polyline points="195.1,443.9 207.9,443.1 220.7,441.0 233.5,438.6 246.3,435.7 259.1,431.0 272.0,420.7 284.8,399.5 297.6,372.0" fill="none" stroke="#c8102e" stroke-width="1.4" stroke-linejoin="round"/>
<line x1="297.58" y1="363.00" x2="297.58" y2="383.66" stroke="#333" stroke-width="0.8" />
<line x1="295.98" y1="363.00" x2="299.18" y2="363.00" stroke="#333" stroke-width="0.8" />
<line x1="284.77" y1="394.76" x2="284.77" y2="399.51" stroke="#333" stroke-width="0.7" />
<line x1="283.37" y1="394.76" x2="286.17" y2="394.76" stroke="#333" stroke-width="0.7" />
<line x1="194.60" y1="349.20" x2="194.60" y2="444.50" stroke="#231f20" stroke-width="1.3" />
<line x1="191.80" y1="443.90" x2="194.60" y2="443.90" stroke="#231f20" stroke-width="1.3" />
<text transform="translate(188.30,446.64)" font-size="7.6" text-anchor="end" fill="#231f20" >0</text>
<line x1="191.80" y1="430.69" x2="194.60" y2="430.69" stroke="#231f20" stroke-width="1.3" />
<text transform="translate(188.30,433.43)" font-size="7.6" text-anchor="end" fill="#231f20" >50</text>
<line x1="191.80" y1="417.48" x2="194.60" y2="417.48" stroke="#231f20" stroke-width="1.3" />
<text transform="translate(188.30,420.22)" font-size="7.6" text-anchor="end" fill="#231f20" >100</text>
<line x1="191.80" y1="404.27" x2="194.60" y2="404.27" stroke="#231f20" stroke-width="1.3" />
<text transform="translate(188.30,407.01)" font-size="7.6" text-anchor="end" fill="#231f20" >150</text>
<line x1="191.80" y1="391.06" x2="194.60" y2="391.06" stroke="#231f20" stroke-width="1.3" />
<text transform="translate(188.30,393.80)" font-size="7.6" text-anchor="end" fill="#231f20" >200</text>
<line x1="191.80" y1="377.85" x2="194.60" y2="377.85" stroke="#231f20" stroke-width="1.3" />
<text transform="translate(188.30,380.59)" font-size="7.6" text-anchor="end" fill="#231f20" >250</text>
<line x1="191.80" y1="364.64" x2="194.60" y2="364.64" stroke="#231f20" stroke-width="1.3" />
<text transform="translate(188.30,367.38)" font-size="7.6" text-anchor="end" fill="#231f20" >300</text>
<line x1="191.80" y1="351.43" x2="194.60" y2="351.43" stroke="#231f20" stroke-width="1.3" />
<text transform="translate(188.30,354.17)" font-size="7.6" text-anchor="end" fill="#231f20" >350</text>
<line x1="194.20" y1="443.90" x2="300.00" y2="443.90" stroke="#231f20" stroke-width="0.9" />
<line x1="195.10" y1="443.90" x2="195.10" y2="446.50" stroke="#231f20" stroke-width="0.9" />
<text transform="translate(195.10,456.20)" font-size="8.1" text-anchor="middle" fill="#231f20" >0</text>
<line x1="213.40" y1="443.90" x2="213.40" y2="446.50" stroke="#231f20" stroke-width="0.9" />
<text transform="translate(213.40,456.20)" font-size="8.1" text-anchor="middle" fill="#231f20" >10</text>
<line x1="231.70" y1="443.90" x2="231.70" y2="446.50" stroke="#231f20" stroke-width="0.9" />
<text transform="translate(231.70,456.20)" font-size="8.1" text-anchor="middle" fill="#231f20" >20</text>
<line x1="250.00" y1="443.90" x2="250.00" y2="446.50" stroke="#231f20" stroke-width="0.9" />
<text transform="translate(250.00,456.20)" font-size="8.1" text-anchor="middle" fill="#231f20" >30</text>
<line x1="268.30" y1="443.90" x2="268.30" y2="446.50" stroke="#231f20" stroke-width="0.9" />
<text transform="translate(268.30,456.20)" font-size="8.1" text-anchor="middle" fill="#231f20" >40</text>
<line x1="286.60" y1="443.90" x2="286.60" y2="446.50" stroke="#231f20" stroke-width="0.9" />
<text transform="translate(286.60,456.20)" font-size="8.1" text-anchor="middle" fill="#231f20" >50</text>
<text transform="translate(219.40,438.34)" font-size="7.2" text-anchor="middle" font-weight="bold" fill="#231f20" >**</text>
<text transform="translate(233.80,437.14)" font-size="7.2" text-anchor="middle" font-weight="bold" fill="#231f20" >**</text>
<text transform="translate(245.10,432.14)" font-size="7.2" text-anchor="middle" font-weight="bold" fill="#231f20" >**</text>
<text transform="translate(259.60,426.84)" font-size="7.2" text-anchor="middle" font-weight="bold" fill="#231f20" >***</text>
<text transform="translate(271.10,418.44)" font-size="7.2" text-anchor="middle" font-weight="bold" fill="#231f20" >***</text>
<text transform="translate(284.10,394.84)" font-size="7.2" text-anchor="middle" font-weight="bold" fill="#231f20" >***</text>
<text transform="translate(297.60,363.04)" font-size="7.2" text-anchor="middle" font-weight="bold" fill="#231f20" >**</text>
<text transform="translate(271.60,431.14)" font-size="7.2" text-anchor="middle" font-weight="bold" fill="#ed1c24" >**</text>
<text transform="translate(284.80,428.04)" font-size="7.2" text-anchor="middle" font-weight="bold" fill="#ed1c24" >*</text>
<text transform="translate(297.30,419.14)" font-size="7.2" text-anchor="middle" font-weight="bold" fill="#ed1c24" >***</text>
<text transform="translate(171.10,396.30) rotate(-90) scale(0.85,1)" font-size="8.8" text-anchor="middle" fill="#231f20" stroke="#231f20" stroke-width="0.3" word-spacing="0.6">Tumor volume (mm3)</text>
<text transform="translate(246.00,468.50) scale(0.74,1)" font-size="8.8" text-anchor="middle" fill="#231f20" stroke="#231f20" stroke-width="0.3" word-spacing="0.8">Time (days)</text>
<rect x="230.50" y="377.06" width="7.00" height="14.14" fill="#27aae1"/>
<rect x="240.50" y="363.46" width="7.00" height="27.74" fill="#c8102e"/>
<rect x="250.40" y="382.50" width="7.00" height="8.70" fill="#39b54a"/>
<rect x="260.40" y="363.46" width="7.00" height="27.74" fill="#662d91"/>
<line x1="234.00" y1="372.16" x2="234.00" y2="377.06" stroke="#1b2330" stroke-width="0.95" />
<line x1="232.40" y1="372.16" x2="235.60" y2="372.16" stroke="#1b2330" stroke-width="0.95" />
<line x1="244.00" y1="359.65" x2="244.00" y2="363.46" stroke="#1b2330" stroke-width="0.95" />
<line x1="242.40" y1="359.65" x2="245.60" y2="359.65" stroke="#1b2330" stroke-width="0.95" />
<line x1="253.90" y1="379.78" x2="253.90" y2="382.50" stroke="#1b2330" stroke-width="0.95" />
<line x1="252.30" y1="379.78" x2="255.50" y2="379.78" stroke="#1b2330" stroke-width="0.95" />
<line x1="263.90" y1="356.38" x2="263.90" y2="363.46" stroke="#1b2330" stroke-width="0.95" />
<line x1="262.30" y1="356.38" x2="265.50" y2="356.38" stroke="#1b2330" stroke-width="0.95" />
<line x1="227.30" y1="346.50" x2="227.30" y2="391.80" stroke="#231f20" stroke-width="1.3" />
<line x1="225.10" y1="391.20" x2="227.30" y2="391.20" stroke="#231f20" stroke-width="1.3" />
<text transform="translate(221.40,393.58)" font-size="6.6" text-anchor="end" fill="#231f20" >0</text>
<line x1="225.10" y1="380.32" x2="227.30" y2="380.32" stroke="#231f20" stroke-width="1.3" />
<text transform="translate(221.40,382.70)" font-size="6.6" text-anchor="end" fill="#231f20" >100</text>
<line x1="225.10" y1="369.44" x2="227.30" y2="369.44" stroke="#231f20" stroke-width="1.3" />
<text transform="translate(221.40,371.82)" font-size="6.6" text-anchor="end" fill="#231f20" >200</text>
<line x1="225.10" y1="358.56" x2="227.30" y2="358.56" stroke="#231f20" stroke-width="1.3" />
<text transform="translate(221.40,360.94)" font-size="6.6" text-anchor="end" fill="#231f20" >300</text>
<line x1="225.10" y1="347.68" x2="227.30" y2="347.68" stroke="#231f20" stroke-width="1.3" />
<text transform="translate(221.40,350.06)" font-size="6.6" text-anchor="end" fill="#231f20" >400</text>
<line x1="226.70" y1="391.20" x2="270.20" y2="391.20" stroke="#231f20" stroke-width="1.3" />
<line x1="234.00" y1="391.20" x2="234.00" y2="393.40" stroke="#231f20" stroke-width="1.3" />
<line x1="244.00" y1="391.20" x2="244.00" y2="393.40" stroke="#231f20" stroke-width="1.3" />
<line x1="253.90" y1="391.20" x2="253.90" y2="393.40" stroke="#231f20" stroke-width="1.3" />
<line x1="263.90" y1="391.20" x2="263.90" y2="393.40" stroke="#231f20" stroke-width="1.3" />
<circle cx="232.60" cy="371.62" r="1.5" fill="#000"/>
<circle cx="235.40" cy="371.07" r="1.5" fill="#000"/>
<circle cx="233.80" cy="374.88" r="1.5" fill="#000"/>
<circle cx="232.40" cy="378.14" r="1.5" fill="#000"/>
<circle cx="235.20" cy="379.23" r="1.5" fill="#000"/>
<circle cx="234.00" cy="377.06" r="1.5" fill="#000"/>
<circle cx="242.20" cy="360.74" r="1.5" fill="#000"/>
<circle cx="244.40" cy="360.19" r="1.5" fill="#000"/>
<circle cx="246.00" cy="360.74" r="1.5" fill="#000"/>
<circle cx="243.00" cy="364.00" r="1.5" fill="#000"/>
<circle cx="245.00" cy="365.63" r="1.5" fill="#000"/>
<circle cx="243.60" cy="368.35" r="1.5" fill="#000"/>
<circle cx="254.00" cy="378.69" r="1.5" fill="#000"/>
<circle cx="253.00" cy="380.32" r="1.5" fill="#000"/>
<circle cx="255.00" cy="380.86" r="1.5" fill="#000"/>
<circle cx="252.60" cy="381.95" r="1.5" fill="#000"/>
<circle cx="254.80" cy="382.50" r="1.5" fill="#000"/>
<circle cx="253.60" cy="383.58" r="1.5" fill="#000"/>
<circle cx="263.80" cy="351.49" r="1.5" fill="#000"/>
<circle cx="264.60" cy="362.37" r="1.5" fill="#000"/>
<circle cx="262.60" cy="364.00" r="1.5" fill="#000"/>
<circle cx="264.00" cy="365.09" r="1.5" fill="#000"/>
<circle cx="263.00" cy="366.72" r="1.5" fill="#000"/>
<text transform="translate(244.00,357.53)" font-size="6.4" text-anchor="middle" font-weight="bold" fill="#231f20" >***</text>
<text transform="translate(254.00,376.53)" font-size="6.4" text-anchor="middle" font-weight="bold" fill="#231f20" >*</text>
<text transform="translate(264.00,349.33)" font-size="6.4" text-anchor="middle" font-weight="bold" fill="#231f20" >**</text>
<text transform="translate(206.90,368.20) rotate(-90) scale(0.8,1)" font-size="7" text-anchor="middle" fill="#231f20" stroke="#231f20" stroke-width="0.3" word-spacing="0.6">Tumor weight (mg)</text>
<text transform="translate(237.00,400.40) rotate(-45) scale(0.84,1)" font-size="7.0" text-anchor="end" fill="#231f20" stroke="#231f20" stroke-width="0.2">pcDNA/siNEG</text>
<text transform="translate(247.20,400.40) rotate(-45) scale(0.84,1)" font-size="7.0" text-anchor="end" fill="#231f20" stroke="#231f20" stroke-width="0.2">FVII/siNEG</text>
<text transform="translate(256.90,400.40) rotate(-45) scale(0.84,1)" font-size="7.0" text-anchor="end" fill="#231f20" stroke="#231f20" stroke-width="0.2">pcDNA/siF7</text>
<text transform="translate(266.30,400.40) rotate(-45) scale(0.84,1)" font-size="7.0" text-anchor="end" fill="#231f20" stroke="#231f20" stroke-width="0.2">FVII/siF7</text>
<line x1="190.90" y1="477.60" x2="200.60" y2="477.60" stroke="#27aae1" stroke-width="1.2" />
<text transform="translate(203.20,480.30)" font-size="7.1" fill="#231f20" >pcDNA/siNEG</text>
<line x1="253.40" y1="477.60" x2="263.40" y2="477.60" stroke="#39b54a" stroke-width="1.2" />
<text transform="translate(265.80,480.30)" font-size="7.1" fill="#231f20" >pcDNA/siF7</text>
<line x1="190.90" y1="487.90" x2="200.60" y2="487.90" stroke="#c8102e" stroke-width="1.2" />
<text transform="translate(203.20,490.60)" font-size="7.1" fill="#231f20" >FVII/siNEG</text>
<line x1="253.40" y1="487.90" x2="263.40" y2="487.90" stroke="#662d91" stroke-width="1.2" />
<text transform="translate(265.80,490.60)" font-size="7.1" fill="#231f20" >FVII/siF7</text>
<text transform="translate(318.00,337.50)" font-size="11" font-weight="bold" fill="#000" >K</text>
<rect x="362.25" y="443.63" width="6.70" height="0.37" fill="#fff" stroke="#f39012" stroke-width="0.6"/>
<rect x="373.40" y="420.04" width="7.60" height="23.96" fill="#f39012"/>
<rect x="384.55" y="440.76" width="7.10" height="3.24" fill="#fff" stroke="#f39012" stroke-width="0.6"/>
<rect x="396.10" y="384.00" width="7.40" height="60.00" fill="#f39012"/>
<rect x="396.10" y="371.88" width="7.40" height="5.52" fill="#f39012"/>
<line x1="377.20" y1="394.28" x2="377.20" y2="420.04" stroke="#1b2330" stroke-width="0.95" />
<line x1="375.20" y1="394.28" x2="379.20" y2="394.28" stroke="#1b2330" stroke-width="0.95" />
<line x1="399.80" y1="365.60" x2="399.80" y2="372.58" stroke="#1b2330" stroke-width="0.95" />
<line x1="397.80" y1="365.60" x2="401.80" y2="365.60" stroke="#1b2330" stroke-width="0.95" />
<line x1="388.10" y1="437.41" x2="388.10" y2="440.41" stroke="#1b2330" stroke-width="0.95" />
<line x1="386.10" y1="437.41" x2="390.10" y2="437.41" stroke="#1b2330" stroke-width="0.95" />
<line x1="358.50" y1="347.90" x2="358.50" y2="377.90" stroke="#231f20" stroke-width="1.2" />
<line x1="358.50" y1="383.50" x2="358.50" y2="444.60" stroke="#231f20" stroke-width="1.2" />
<line x1="355.70" y1="372.30" x2="358.50" y2="372.30" stroke="#231f20" stroke-width="1.2" />
<text transform="translate(353.00,375.00)" font-size="7.8" text-anchor="end" fill="#231f20" >2000</text>
<line x1="355.70" y1="366.70" x2="358.50" y2="366.70" stroke="#231f20" stroke-width="1.2" />
<text transform="translate(353.00,369.40)" font-size="7.8" text-anchor="end" fill="#231f20" >4000</text>
<line x1="355.70" y1="361.10" x2="358.50" y2="361.10" stroke="#231f20" stroke-width="1.2" />
<text transform="translate(353.00,363.80)" font-size="7.8" text-anchor="end" fill="#231f20" >6000</text>
<line x1="355.70" y1="355.50" x2="358.50" y2="355.50" stroke="#231f20" stroke-width="1.2" />
<text transform="translate(353.00,358.20)" font-size="7.8" text-anchor="end" fill="#231f20" >8000</text>
<line x1="355.70" y1="349.90" x2="358.50" y2="349.90" stroke="#231f20" stroke-width="1.2" />
<text transform="translate(353.00,352.60)" font-size="7.8" text-anchor="end" fill="#231f20" >10000</text>
<line x1="355.70" y1="377.30" x2="358.50" y2="377.30" stroke="#231f20" stroke-width="1.2" />
<line x1="355.70" y1="444.00" x2="358.50" y2="444.00" stroke="#231f20" stroke-width="1.2" />
<text transform="translate(353.00,446.80)" font-size="7.8" text-anchor="end" fill="#231f20" >0</text>
<line x1="355.70" y1="432.02" x2="358.50" y2="432.02" stroke="#231f20" stroke-width="1.2" />
<text transform="translate(353.00,434.82)" font-size="7.8" text-anchor="end" fill="#231f20" >20</text>
<line x1="355.70" y1="420.04" x2="358.50" y2="420.04" stroke="#231f20" stroke-width="1.2" />
<text transform="translate(353.00,422.84)" font-size="7.8" text-anchor="end" fill="#231f20" >40</text>
<line x1="355.70" y1="408.06" x2="358.50" y2="408.06" stroke="#231f20" stroke-width="1.2" />
<text transform="translate(353.00,410.86)" font-size="7.8" text-anchor="end" fill="#231f20" >60</text>
<line x1="355.70" y1="396.08" x2="358.50" y2="396.08" stroke="#231f20" stroke-width="1.2" />
<text transform="translate(353.00,398.88)" font-size="7.8" text-anchor="end" fill="#231f20" >80</text>
<line x1="355.70" y1="384.10" x2="358.50" y2="384.10" stroke="#231f20" stroke-width="1.2" />
<text transform="translate(353.00,386.90)" font-size="7.8" text-anchor="end" fill="#231f20" >100</text>
<line x1="357.90" y1="444.00" x2="406.50" y2="444.00" stroke="#231f20" stroke-width="1.3" />
<line x1="365.60" y1="444.00" x2="365.60" y2="447.00" stroke="#231f20" stroke-width="1.3" />
<line x1="377.20" y1="444.00" x2="377.20" y2="447.00" stroke="#231f20" stroke-width="1.3" />
<line x1="388.10" y1="444.00" x2="388.10" y2="447.00" stroke="#231f20" stroke-width="1.3" />
<line x1="399.80" y1="444.00" x2="399.80" y2="447.00" stroke="#231f20" stroke-width="1.3" />
<circle cx="363.80" cy="443.10" r="2.2" fill="#000"/>
<circle cx="365.60" cy="443.52" r="2.2" fill="#000"/>
<circle cx="367.40" cy="443.10" r="2.2" fill="#000"/>
<circle cx="377.10" cy="377.50" r="2.2" fill="#000"/>
<circle cx="377.00" cy="398.48" r="2.2" fill="#000"/>
<circle cx="377.80" cy="424.83" r="2.2" fill="#000"/>
<circle cx="378.60" cy="436.21" r="2.2" fill="#000"/>
<circle cx="377.60" cy="439.21" r="2.2" fill="#000"/>
<circle cx="375.20" cy="441.60" r="2.2" fill="#000"/>
<circle cx="386.00" cy="435.61" r="1.95" fill="#fff" stroke="#231f20" stroke-width="1.15"/>
<circle cx="389.80" cy="438.01" r="1.95" fill="#fff" stroke="#231f20" stroke-width="1.15"/>
<circle cx="387.80" cy="440.41" r="1.95" fill="#fff" stroke="#231f20" stroke-width="1.15"/>
<circle cx="385.60" cy="442.20" r="1.95" fill="#fff" stroke="#231f20" stroke-width="1.15"/>
<circle cx="388.60" cy="442.80" r="1.95" fill="#fff" stroke="#231f20" stroke-width="1.15"/>
<circle cx="399.70" cy="359.50" r="2.2" fill="#000"/>
<circle cx="398.80" cy="372.40" r="2.2" fill="#000"/>
<circle cx="400.80" cy="374.80" r="2.2" fill="#000"/>
<circle cx="399.00" cy="375.60" r="2.2" fill="#000"/>
<line x1="362.50" y1="372.20" x2="376.90" y2="372.20" stroke="#231f20" stroke-width="1.0" />
<text transform="translate(369.70,372.64)" font-size="7.2" text-anchor="middle" font-weight="bold" fill="#231f20" >**</text>
<line x1="362.50" y1="363.40" x2="388.90" y2="363.40" stroke="#231f20" stroke-width="1.0" />
<text transform="translate(375.70,364.04)" font-size="7.2" text-anchor="middle" font-weight="bold" fill="#231f20" >**</text>
<line x1="375.70" y1="353.50" x2="400.90" y2="353.50" stroke="#231f20" stroke-width="1.0" />
<text transform="translate(388.90,354.24)" font-size="7.2" text-anchor="middle" font-weight="bold" fill="#231f20" >**</text>
<text transform="translate(324.80,396.00) rotate(-90) scale(0.83,1)" font-size="7.8" text-anchor="middle" fill="#231f20" stroke="#231f20" stroke-width="0.3" word-spacing="0.6">Liver metastasis (-fold)</text>
<text transform="translate(368.60,454.20) rotate(-45)" font-size="7.4" text-anchor="end" fill="#231f20" stroke="#231f20" stroke-width="0.2">pcDNA/siNEG</text>
<text transform="translate(380.20,454.20) rotate(-45)" font-size="7.4" text-anchor="end" fill="#231f20" stroke="#231f20" stroke-width="0.2">FVII/siNEG</text>
<text transform="translate(391.10,454.20) rotate(-45)" font-size="7.4" text-anchor="end" fill="#231f20" stroke="#231f20" stroke-width="0.2">pcDNA/siF7</text>
<text transform="translate(402.80,454.20) rotate(-45)" font-size="7.4" text-anchor="end" fill="#231f20" stroke="#231f20" stroke-width="0.2">FVII/siF7</text>
<text transform="translate(423.00,337.50)" font-size="11" font-weight="bold" fill="#000" >L</text>
<rect x="467.00" y="434.52" width="7.80" height="9.48" fill="#f39012"/>
<rect x="478.75" y="441.19" width="7.10" height="2.81" fill="#fff" stroke="#f39012" stroke-width="0.6"/>
<rect x="489.60" y="389.24" width="8.00" height="54.76" fill="#f39012"/>
<line x1="470.90" y1="427.15" x2="470.90" y2="434.52" stroke="#1b2330" stroke-width="0.95" />
<line x1="468.90" y1="427.15" x2="472.90" y2="427.15" stroke="#1b2330" stroke-width="0.95" />
<line x1="493.60" y1="380.40" x2="493.60" y2="389.24" stroke="#1b2330" stroke-width="0.95" />
<line x1="493.60" y1="380.40" x2="493.60" y2="380.40" stroke="#1b2330" stroke-width="0.95" />
<line x1="493.60" y1="364.40" x2="493.60" y2="372.00" stroke="#1b2330" stroke-width="0.95" />
<line x1="491.60" y1="364.40" x2="495.60" y2="364.40" stroke="#1b2330" stroke-width="0.95" />
<line x1="452.40" y1="347.40" x2="452.40" y2="372.50" stroke="#231f20" stroke-width="1.2" />
<line x1="452.40" y1="380.30" x2="452.40" y2="444.60" stroke="#231f20" stroke-width="1.2" />
<line x1="449.50" y1="371.90" x2="452.40" y2="371.90" stroke="#231f20" stroke-width="1.2" />
<text transform="translate(446.00,374.60)" font-size="7.6" text-anchor="end" fill="#231f20" >6</text>
<line x1="449.50" y1="366.22" x2="452.40" y2="366.22" stroke="#231f20" stroke-width="1.2" />
<text transform="translate(446.00,368.92)" font-size="7.6" text-anchor="end" fill="#231f20" >8</text>
<line x1="449.50" y1="360.54" x2="452.40" y2="360.54" stroke="#231f20" stroke-width="1.2" />
<text transform="translate(446.00,363.24)" font-size="7.6" text-anchor="end" fill="#231f20" >10</text>
<line x1="449.50" y1="354.86" x2="452.40" y2="354.86" stroke="#231f20" stroke-width="1.2" />
<text transform="translate(446.00,357.56)" font-size="7.6" text-anchor="end" fill="#231f20" >12</text>
<line x1="449.50" y1="349.18" x2="452.40" y2="349.18" stroke="#231f20" stroke-width="1.2" />
<text transform="translate(446.00,351.88)" font-size="7.6" text-anchor="end" fill="#231f20" >14</text>
<line x1="449.50" y1="444.00" x2="452.40" y2="444.00" stroke="#231f20" stroke-width="1.2" />
<text transform="translate(446.00,446.80)" font-size="7.6" text-anchor="end" fill="#231f20" >0</text>
<line x1="449.50" y1="422.94" x2="452.40" y2="422.94" stroke="#231f20" stroke-width="1.2" />
<text transform="translate(446.00,425.74)" font-size="7.6" text-anchor="end" fill="#231f20" >2</text>
<line x1="449.50" y1="401.88" x2="452.40" y2="401.88" stroke="#231f20" stroke-width="1.2" />
<text transform="translate(446.00,404.68)" font-size="7.6" text-anchor="end" fill="#231f20" >4</text>
<line x1="449.50" y1="380.82" x2="452.40" y2="380.82" stroke="#231f20" stroke-width="1.2" />
<text transform="translate(446.00,383.62)" font-size="7.6" text-anchor="end" fill="#231f20" >6</text>
<line x1="451.80" y1="444.00" x2="500.80" y2="444.00" stroke="#231f20" stroke-width="1.3" />
<line x1="458.50" y1="444.00" x2="458.50" y2="447.00" stroke="#231f20" stroke-width="1.3" />
<line x1="470.90" y1="444.00" x2="470.90" y2="447.00" stroke="#231f20" stroke-width="1.3" />
<line x1="482.30" y1="444.00" x2="482.30" y2="447.00" stroke="#231f20" stroke-width="1.3" />
<line x1="493.60" y1="444.00" x2="493.60" y2="447.00" stroke="#231f20" stroke-width="1.3" />
<circle cx="455.60" cy="444.00" r="2.2" fill="#000"/>
<circle cx="457.40" cy="444.00" r="2.2" fill="#000"/>
<circle cx="459.20" cy="444.00" r="2.2" fill="#000"/>
<circle cx="461.00" cy="444.00" r="2.2" fill="#000"/>
<circle cx="470.80" cy="422.94" r="2.2" fill="#000"/>
<circle cx="470.80" cy="428.73" r="2.2" fill="#000"/>
<circle cx="470.80" cy="433.47" r="2.2" fill="#000"/>
<circle cx="469.60" cy="444.00" r="2.2" fill="#000"/>
<circle cx="472.00" cy="444.00" r="2.2" fill="#000"/>
<circle cx="470.80" cy="438.74" r="2.2" fill="#000"/>
<circle cx="482.20" cy="436.63" r="1.95" fill="#fff" stroke="#231f20" stroke-width="1.15"/>
<circle cx="480.40" cy="440.84" r="1.95" fill="#fff" stroke="#231f20" stroke-width="1.15"/>
<circle cx="484.40" cy="440.84" r="1.95" fill="#fff" stroke="#231f20" stroke-width="1.15"/>
<circle cx="481.60" cy="444.00" r="1.95" fill="#fff" stroke="#231f20" stroke-width="1.15"/>
<circle cx="483.40" cy="444.00" r="1.95" fill="#fff" stroke="#231f20" stroke-width="1.15"/>
<circle cx="494.00" cy="355.90" r="2.2" fill="#000"/>
<circle cx="494.00" cy="380.00" r="2.2" fill="#000"/>
<circle cx="493.80" cy="401.20" r="2.2" fill="#000"/>
<circle cx="492.40" cy="407.20" r="2.2" fill="#000"/>
<circle cx="491.00" cy="412.20" r="2.2" fill="#000"/>
<circle cx="496.20" cy="412.20" r="2.2" fill="#000"/>
<line x1="457.50" y1="415.60" x2="471.20" y2="415.60" stroke="#231f20" stroke-width="1.0" />
<text transform="translate(464.70,415.54)" font-size="7.2" text-anchor="middle" font-weight="bold" fill="#231f20" >*</text>
<line x1="468.30" y1="349.90" x2="494.70" y2="349.90" stroke="#231f20" stroke-width="1.0" />
<text transform="translate(482.00,349.94)" font-size="7.2" text-anchor="middle" font-weight="bold" fill="#231f20" >*</text>
<text transform="translate(431.20,396.00) rotate(-90) scale(0.83,1)" font-size="7.8" text-anchor="middle" fill="#231f20" stroke="#231f20" stroke-width="0.3" word-spacing="0.6">Liver metastasis (#)</text>
<text transform="translate(461.50,454.20) rotate(-45)" font-size="7.4" text-anchor="end" fill="#231f20" stroke="#231f20" stroke-width="0.2">pcDNA/siNEG</text>
<text transform="translate(473.90,454.20) rotate(-45)" font-size="7.4" text-anchor="end" fill="#231f20" stroke="#231f20" stroke-width="0.2">FVII/siNEG</text>
<text transform="translate(485.30,454.20) rotate(-45)" font-size="7.4" text-anchor="end" fill="#231f20" stroke="#231f20" stroke-width="0.2">pcDNA/siF7</text>
<text transform="translate(496.60,454.20) rotate(-45)" font-size="7.4" text-anchor="end" fill="#231f20" stroke="#231f20" stroke-width="0.2">FVII/siF7</text>
<rect x="0.5" y="0.5" width="519" height="498" fill="none" stroke="#58595b" stroke-width="1"/>
</svg>
</body>
</html>
